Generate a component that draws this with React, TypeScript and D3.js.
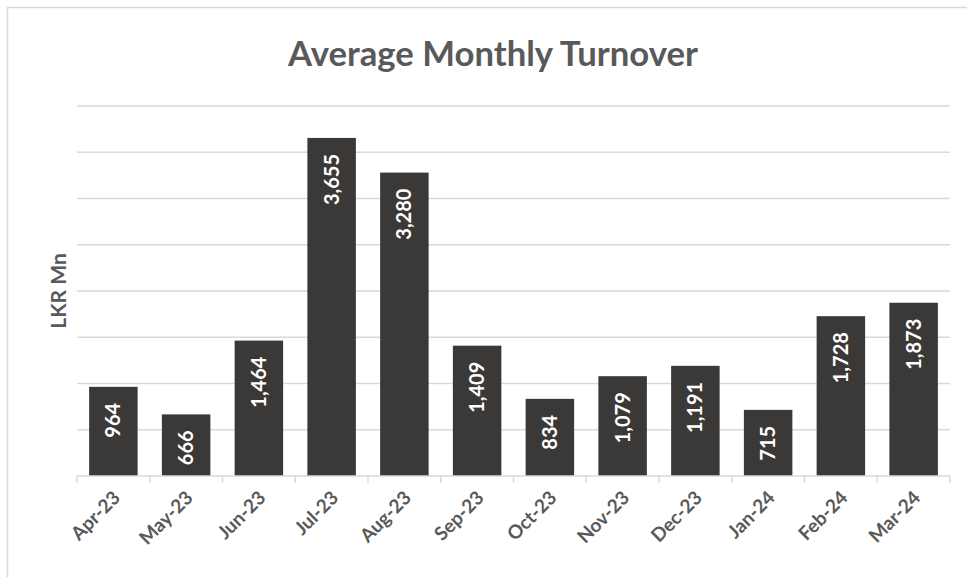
import React from 'react';
import * as d3 from 'd3';

// Average monthly turnover, LKR Mn
const months = ['Apr-23', 'May-23', 'Jun-23', 'Jul-23', 'Aug-23', 'Sep-23', 'Oct-23', 'Nov-23', 'Dec-23', 'Jan-24', 'Feb-24', 'Mar-24'];
const turnover = [964, 666, 1464, 3655, 3280, 1409, 834, 1079, 1191, 715, 1728, 1873];
const gridTicks = [0, 500, 1000, 1500, 2000, 2500, 3000, 3500, 4000];

const W = 967;
const H = 577;
const plot = { left: 77, right: 950, top: 106, bottom: 476 };
const font = 'Lato, "Open Sans", sans-serif';
const textColor = '#595959';

const App = () => {
   const x = d3.scaleBand()
      .domain(months)
      .range([plot.left, plot.right])
      .paddingInner(1 / 3)
      .paddingOuter(1 / 6);

   const y = d3.scaleLinear()
      .domain([0, 4000])
      .range([plot.bottom, plot.top]);

   const fmt = d3.format(',');
   const step = x.step();

   return (
      <svg width={W} height={H} style={{ position: 'absolute', left: 0, top: 0, background: '#fff' }}>
         {/* chart frame */}
         <path d={`M7.5,${H} V7.5 H${W}`} fill="none" stroke="#d9d9d9" strokeWidth={1.5} />

         <text x={493} y={66} textAnchor="middle" fontFamily={font} fontWeight={700}
            fontSize={34} fill={textColor} textLength={410} lengthAdjust="spacingAndGlyphs">
            Average Monthly Turnover
         </text>

         {/* gridlines */}
         {gridTicks.slice(1).map(t => (
            <line key={t} x1={plot.left} x2={plot.right} y1={y(t)} y2={y(t)} stroke="#d9d9d9" strokeWidth={1.5} />
         ))}

         {/* bars */}
         {months.map((m, i) => (
            <rect key={m} x={x(m)} y={y(turnover[i])} width={x.bandwidth()}
               height={y(0) - y(turnover[i])} fill="#3a3937" />
         ))}

         {/* axis line + ticks */}
         <line x1={plot.left} x2={plot.right} y1={y(0)} y2={y(0)} stroke="#d9d9d9" strokeWidth={1.5} />
         {d3.range(months.length + 1).map(i => {
            const bx = plot.left + i * step;
            return <line key={i} x1={bx} x2={bx} y1={y(0)} y2={y(0) + 7} stroke="#d9d9d9" strokeWidth={1.5} />;
         })}

         {/* value labels */}
         {months.map((m, i) => {
            const cx = x(m) + x.bandwidth() / 2;
            const ty = y(turnover[i]) + 16;
            return (
               <text key={m} transform={`translate(${cx + 7},${ty}) rotate(-90)`} textAnchor="end"
                  fontFamily={font} fontWeight={700} fontSize={20} fill="#fff">
                  {fmt(turnover[i])}
               </text>
            );
         })}

         {/* category labels */}
         {months.map(m => {
            const cx = x(m) + x.bandwidth() / 2;
            return (
               <text key={m} transform={`translate(${cx + 8},${y(0) + 23}) rotate(-45)`} textAnchor="end"
                  fontFamily={font} fontWeight={700} fontSize={19} fill={textColor}>
                  {m}
               </text>
            );
         })}

         <text transform={`translate(${66},${291}) rotate(-90)`} textAnchor="middle"
            fontFamily={font} fontWeight={700} fontSize={21} fill={textColor}>
            LKR Mn
         </text>
      </svg>
   );
};

export default App;
